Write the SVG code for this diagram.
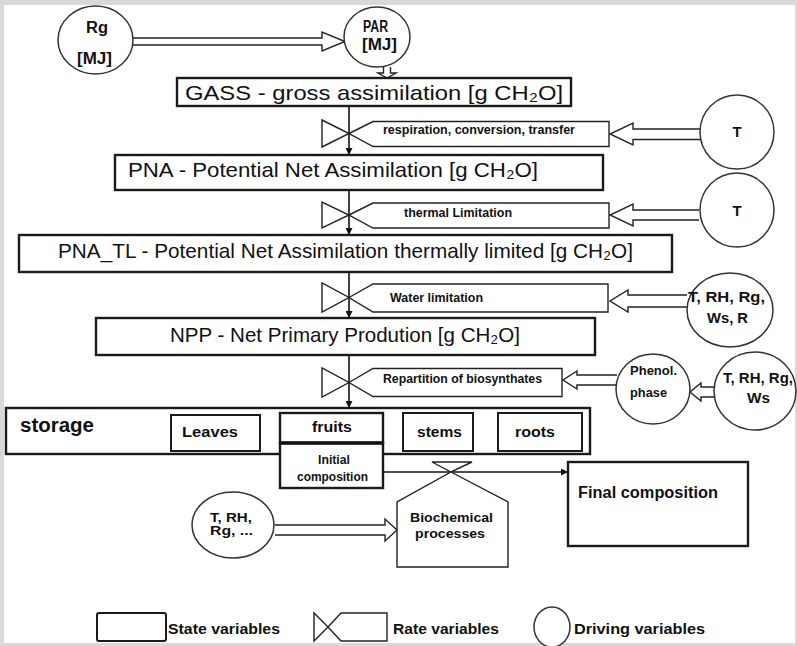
<svg xmlns="http://www.w3.org/2000/svg" width="797" height="646" viewBox="0 0 797 646">
<style>
.box{fill:#fff;stroke:#1a1a1a;stroke-width:2.4}
.sbox{fill:#fff;stroke:#1a1a1a;stroke-width:2}
.thin{fill:#fff;stroke:#222;stroke-width:1.4}
.circ{fill:#fff;stroke:#333;stroke-width:1.5}
.ha{fill:#fff;stroke:#222;stroke-width:1.4;stroke-linejoin:miter}
.flow{stroke:#111;stroke-width:1.6;fill:none}
.big{font-family:"Liberation Sans",Arial,sans-serif;font-size:21px;fill:#111}
.b{font-family:"Liberation Sans",Arial,sans-serif;font-weight:bold;fill:#111}
.s12{font-size:12px}
.s13{font-size:13px}
.s15{font-size:15px}
.s16{font-size:16px}
.s20{font-size:20px}
.m{text-anchor:middle}
</style>
<defs>
<marker id="ah" viewBox="0 0 10 10" refX="10" refY="5" markerWidth="7" markerHeight="7" markerUnits="userSpaceOnUse" orient="auto">
<path d="M0,0 L10,5 L0,10 z" fill="#111"/>
</marker>
</defs>
<rect width="797" height="646" fill="#d9d9d9"/>
<rect x="4" y="5" width="791" height="638" fill="#fff"/>

<g id="connectors">
<path class="ha" d="M133,38 L322,38 L322,32 L345,41.5 L322,51 L322,45 L133,45"/>
<path class="ha" d="M383.5,67 L383.5,73 L378,73 L387,78 L396,73 L390.5,73 L390.5,67"/>
<line class="flow" x1="349" y1="106" x2="349" y2="155" marker-end="url(#ah)"/>
<line class="flow" x1="349" y1="190" x2="349" y2="235" marker-end="url(#ah)"/>
<line class="flow" x1="349" y1="272" x2="349" y2="318" marker-end="url(#ah)"/>
<line class="flow" x1="349" y1="355" x2="349" y2="408" marker-end="url(#ah)"/>
<path class="ha" d="M700,129 L633,129 L633,123 L610,134 L633,145 L633,139.5 L700,139.5"/>
<path class="ha" d="M699,210 L633,210 L633,204 L610,215 L633,226 L633,220 L699,220"/>
<path class="ha" d="M687,295 L628,295 L628,290 L610,301 L628,312 L628,307 L687,307"/>
<path class="ha" d="M617,375 L577,375 L577,371 L563,380 L577,389 L577,385 L617,385"/>
<path class="ha" d="M714,387 L701,387 L701,383 L690,392 L701,401 L701,397 L714,397"/>
<path class="ha" d="M275,525 L385,525 L385,519 L397,530 L385,541 L385,535 L275,535"/>
<line class="flow" x1="383" y1="472" x2="568" y2="472" marker-end="url(#ah)"/>
</g>

<g id="Rg">
<ellipse class="circ" cx="95.5" cy="40" rx="37.5" ry="34"/>
<text class="b s16 m" x="97" y="33" textLength="22" lengthAdjust="spacingAndGlyphs">Rg</text>
<text class="b s16 m" x="94.5" y="64" textLength="35" lengthAdjust="spacingAndGlyphs">[MJ]</text>
</g>

<g id="PAR">
<ellipse class="circ" cx="377" cy="37" rx="33" ry="30"/>
<text class="b s16 m" x="375.5" y="32" textLength="25" lengthAdjust="spacingAndGlyphs">PAR</text>
<text class="b s16 m" x="379.5" y="50" textLength="35" lengthAdjust="spacingAndGlyphs">[MJ]</text>
</g>

<g id="GASS">
<rect class="box" x="177" y="78" width="394" height="28"/>
<text class="big" x="185" y="100" textLength="378" lengthAdjust="spacingAndGlyphs">GASS - gross assimilation [g CH₂O]</text>
</g>

<g id="rate1">
<polygon class="thin" points="322,120 322,147 349,133.5"/>
<polygon class="thin" points="349,133.5 373,121.5 609,121.5 609,146.5 373,146.5"/>
<text class="b s12" x="383" y="134" textLength="192" lengthAdjust="spacingAndGlyphs">respiration, conversion, transfer</text>
</g>

<g id="T1">
<circle class="circ" cx="737" cy="132" r="37"/>
<text class="b s15 m" x="737" y="137">T</text>
</g>

<g id="PNA">
<rect class="box" x="115" y="155" width="488" height="35"/>
<text class="big" x="128" y="177" textLength="410" lengthAdjust="spacingAndGlyphs">PNA - Potential Net Assimilation [g CH₂O]</text>
</g>

<g id="rate2">
<polygon class="thin" points="322,202 322,228 349,215"/>
<polygon class="thin" points="349,215 373,203 609,203 609,228 373,228"/>
<text class="b s12" x="404" y="217" textLength="108" lengthAdjust="spacingAndGlyphs">thermal Limitation</text>
</g>

<g id="T2">
<circle class="circ" cx="737" cy="210" r="37"/>
<text class="b s15 m" x="737" y="216">T</text>
</g>

<g id="PNA_TL">
<rect class="box" x="19" y="235" width="653" height="37"/>
<text class="big" x="58" y="258" textLength="575" lengthAdjust="spacingAndGlyphs">PNA_TL - Potential Net Assimilation thermally limited [g CH₂O]</text>
</g>

<g id="rate3">
<polygon class="thin" points="322,283 322,312 349,297.5"/>
<polygon class="thin" points="349,297.5 373,284 608,284 608,312 373,312"/>
<text class="b s12" x="390" y="302" textLength="93" lengthAdjust="spacingAndGlyphs">Water limitation</text>
</g>

<g id="T_RH_Rg_Ws_R">
<ellipse class="circ" cx="730" cy="310" rx="43" ry="37"/>
<text class="b s15" x="688" y="302" textLength="77" lengthAdjust="spacingAndGlyphs">T, RH, Rg,</text>
<text class="b s15" x="707" y="323" textLength="41" lengthAdjust="spacingAndGlyphs">Ws, R</text>
</g>

<g id="NPP">
<rect class="box" x="96" y="318" width="499" height="37"/>
<text class="big" x="170" y="342" textLength="350" lengthAdjust="spacingAndGlyphs">NPP - Net Primary Prodution [g CH₂O]</text>
</g>

<g id="rate4">
<polygon class="thin" points="322,368 322,397 349,382.5"/>
<polygon class="thin" points="349,382.5 373,368.5 562,368.5 562,396.5 373,396.5"/>
<text class="b s12" x="383" y="383" textLength="159" lengthAdjust="spacingAndGlyphs">Repartition of biosynthates</text>
</g>

<g id="Phenol">
<ellipse class="circ" cx="653" cy="389" rx="37" ry="35"/>
<text class="b s13" x="630" y="375" textLength="47" lengthAdjust="spacingAndGlyphs">Phenol.</text>
<text class="b s13" x="630" y="397" textLength="37" lengthAdjust="spacingAndGlyphs">phase</text>
</g>

<g id="T_RH_Rg_Ws">
<ellipse class="circ" cx="755" cy="391" rx="41" ry="39"/>
<text class="b s15" x="723" y="383" textLength="70" lengthAdjust="spacingAndGlyphs">T, RH, Rg,</text>
<text class="b s15" x="747" y="403" textLength="23" lengthAdjust="spacingAndGlyphs">Ws</text>
</g>

<g id="storage">
<rect class="box" x="6" y="408" width="584" height="46"/>
<text class="b s20" x="20" y="432" textLength="74" lengthAdjust="spacingAndGlyphs">storage</text>
</g>

<g id="leaves">
<rect class="sbox" x="171" y="415" width="89" height="36"/>
<text class="b s15" x="182" y="437" textLength="56" lengthAdjust="spacingAndGlyphs">Leaves</text>
</g>

<g id="fruits">
<rect class="box" x="280" y="413" width="103" height="30"/>
<text class="b s15" x="312" y="432" textLength="40" lengthAdjust="spacingAndGlyphs">fruits</text>
</g>

<g id="initial">
<rect class="box" x="280" y="443" width="103" height="45"/>
<line x1="280" y1="443" x2="383" y2="443" stroke="#111" stroke-width="3.5"/>
<text class="b s12" x="318" y="464" textLength="32" lengthAdjust="spacingAndGlyphs">Initial</text>
<text class="b s12" x="297" y="481" textLength="71" lengthAdjust="spacingAndGlyphs">composition</text>
</g>

<g id="stems">
<rect class="sbox" x="403" y="413" width="70" height="38"/>
<text class="b s15" x="417" y="437" textLength="45" lengthAdjust="spacingAndGlyphs">stems</text>
</g>

<g id="roots">
<rect class="sbox" x="498" y="413" width="84" height="38"/>
<text class="b s15" x="515" y="437" textLength="40" lengthAdjust="spacingAndGlyphs">roots</text>
</g>

<g id="biochemical">
<polygon class="thin" points="432,462 472,462 451,472"/>
<polygon class="thin" points="451,472 508,502 508,567 397,567 397,502"/>
<text class="b s13" x="410" y="522" textLength="83" lengthAdjust="spacingAndGlyphs">Biochemical</text>
<text class="b s13" x="415" y="538" textLength="70" lengthAdjust="spacingAndGlyphs">processes</text>
</g>

<g id="T_RH_Rg_etc">
<ellipse class="circ" cx="233" cy="525" rx="41" ry="33"/>
<text class="b s12" x="210" y="522" textLength="42" lengthAdjust="spacingAndGlyphs">T, RH,</text>
<text class="b s12" x="210" y="535" textLength="43" lengthAdjust="spacingAndGlyphs">Rg, ...</text>
</g>

<g id="final">
<rect class="box" x="568" y="462" width="180" height="84"/>
<text class="b s16" x="578" y="498" textLength="140" lengthAdjust="spacingAndGlyphs">Final composition</text>
</g>

<g id="legend">
<rect class="sbox" x="97" y="613" width="69" height="28" rx="2"/>
<text class="b s15" x="168" y="634" textLength="112" lengthAdjust="spacingAndGlyphs">State variables</text>
<polygon class="thin" points="314,613 314,641 328,627"/>
<polygon class="thin" points="328,627 341,613 387,613 387,641 341,641"/>
<text class="b s15" x="393" y="634" textLength="106" lengthAdjust="spacingAndGlyphs">Rate variables</text>
<ellipse class="circ" cx="552" cy="627" rx="18" ry="20"/>
<text class="b s15" x="574" y="634" textLength="131" lengthAdjust="spacingAndGlyphs">Driving variables</text>
</g>
</svg>
